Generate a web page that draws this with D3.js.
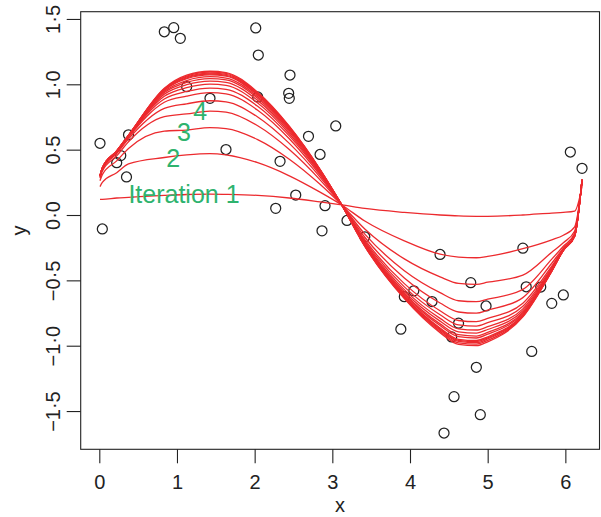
<!DOCTYPE html>
<html><head><meta charset="utf-8">
<script src="https://cdn.jsdelivr.net/npm/d3@7/dist/d3.min.js"></script>
<style>body{margin:0;background:#fff}svg{display:block}</style>
</head><body>
<svg id="chart" width="601" height="517"></svg>
<script>
// observed data points
const pointX = [0.009,0.039,0.224,0.276,0.350,0.376,0.837,0.958,1.043,1.125,1.425,1.631,2.014,2.047,2.039,2.455,2.438,2.446,2.327,2.271,2.529,2.693,2.842,2.867,2.906,3.044,3.189,3.418,3.882,3.927,4.049,4.283,4.387,4.438,4.537,4.567,4.625,4.782,4.854,4.905,4.979,5.453,5.496,5.683,5.567,5.825,5.974,6.064,6.215];
const pointY = [0.549,-0.107,0.400,0.455,0.291,0.614,1.402,1.433,1.352,0.982,0.893,0.501,1.431,1.224,0.903,1.071,0.931,0.893,0.411,0.051,0.153,0.602,0.463,-0.121,0.071,0.681,-0.042,-0.167,-0.874,-0.625,-0.580,-0.662,-0.302,-1.668,-0.933,-1.390,-0.828,-0.518,-1.165,-1.528,-0.696,-0.254,-0.549,-0.551,-1.044,-0.676,-0.612,0.482,0.357];

// x positions at which the fitted curves are drawn
const fitX = [0.009,0.039,0.224,0.376,0.837,1.125,1.425,1.631,2.039,2.446,2.842,3.121,3.418,3.927,4.387,4.625,4.854,5.0,5.453,5.825,5.974,6.12,6.215];
// fitted curve after each iteration
const iter1  = [0.12,0.12,0.13,0.135,0.15,0.157,0.16,0.158,0.15,0.13,0.10,0.077,0.05,0.02,0.0,-0.007,-0.01,-0.01,0.0,0.015,0.02,0.03,0.22];
const iter2  = [0.217,0.249,0.324,0.391,0.44,0.46,0.47,0.46,0.40,0.30,0.175,0.077,-0.046,-0.198,-0.30,-0.322,-0.327,-0.317,-0.258,-0.19,-0.155,-0.09,0.25];
const iter3  = [0.262,0.309,0.414,0.509,0.642,0.650,0.668,0.661,0.577,0.427,0.235,0.077,-0.107,-0.336,-0.473,-0.523,-0.530,-0.514,-0.460,-0.285,-0.212,-0.122,0.26];
const iter4  = [0.281,0.335,0.452,0.560,0.752,0.773,0.795,0.787,0.683,0.501,0.269,0.077,-0.146,-0.426,-0.594,-0.656,-0.663,-0.644,-0.569,-0.338,-0.239,-0.140,0.27];
const iter5  = [0.290,0.346,0.469,0.582,0.816,0.851,0.874,0.866,0.750,0.548,0.290,0.077,-0.170,-0.482,-0.673,-0.742,-0.751,-0.728,-0.632,-0.369,-0.253,-0.149,0.27];
const iter6  = [0.294,0.353,0.479,0.595,0.863,0.910,0.936,0.927,0.802,0.584,0.306,0.077,-0.189,-0.525,-0.733,-0.807,-0.816,-0.791,-0.675,-0.391,-0.261,-0.154,0.27];
const iter7  = [0.297,0.355,0.483,0.601,0.888,0.945,0.971,0.962,0.832,0.605,0.316,0.077,-0.200,-0.550,-0.763,-0.841,-0.850,-0.824,-0.698,-0.402,-0.265,-0.156,0.27];
const iter8  = [0.298,0.357,0.486,0.605,0.909,0.974,1.001,0.992,0.857,0.622,0.324,0.077,-0.210,-0.571,-0.791,-0.871,-0.880,-0.854,-0.718,-0.411,-0.267,-0.158,0.27];
const iter9  = [0.299,0.359,0.488,0.607,0.925,0.997,1.025,1.015,0.877,0.636,0.330,0.077,-0.217,-0.587,-0.812,-0.894,-0.903,-0.876,-0.733,-0.417,-0.268,-0.159,0.27];
const iter10 = [0.299,0.359,0.489,0.608,0.937,1.015,1.044,1.034,0.893,0.647,0.335,0.077,-0.223,-0.600,-0.833,-0.916,-0.926,-0.898,-0.745,-0.421,-0.269,-0.16,0.27];
const iter11 = [0.30,0.36,0.489,0.609,0.946,1.029,1.058,1.048,0.904,0.655,0.339,0.077,-0.227,-0.610,-0.846,-0.931,-0.941,-0.912,-0.753,-0.424,-0.27,-0.16,0.27];
const iter12 = [0.30,0.36,0.49,0.61,0.954,1.043,1.072,1.062,0.916,0.664,0.343,0.077,-0.231,-0.620,-0.864,-0.951,-0.960,-0.932,-0.762,-0.427,-0.27,-0.16,0.27];
const iter13 = [0.30,0.36,0.49,0.61,0.958,1.050,1.079,1.069,0.922,0.668,0.345,0.077,-0.233,-0.625,-0.871,-0.959,-0.968,-0.940,-0.766,-0.428,-0.27,-0.16,0.27];
const iter14 = [0.30,0.36,0.49,0.61,0.963,1.056,1.086,1.076,0.928,0.672,0.346,0.077,-0.236,-0.630,-0.879,-0.967,-0.977,-0.948,-0.771,-0.429,-0.27,-0.16,0.27];
const iter15 = [0.30,0.36,0.49,0.61,0.966,1.063,1.093,1.083,0.934,0.676,0.348,0.077,-0.238,-0.635,-0.889,-0.978,-0.988,-0.959,-0.775,-0.43,-0.27,-0.16,0.27];
const iter16 = [0.30,0.36,0.49,0.61,0.97,1.07,1.10,1.09,0.94,0.68,0.35,0.077,-0.24,-0.64,-0.90,-0.99,-1.00,-0.97,-0.78,-0.43,-0.27,-0.16,0.27];

const xTicks = [0,1,2,3,4,5,6];
const yTicks = [-1.5,-1.0,-0.5,0.0,0.5,1.0,1.5];
const labelText = ["Iteration 1","2","3","4"];
const labelX = [1.09,0.95,1.09,1.30];
const labelY = [0.09,0.37,0.57,0.73];

const iterations = [iter1,iter2,iter3,iter4,iter5,iter6,iter7,iter8,iter9,iter10,iter11,iter12,iter13,iter14,iter15,iter16];

const svg = d3.select("#chart");
const pL = 80.7, pR = 599.5, pT = 11.7, pB = 449.3;
const xs = d3.scaleLinear().domain([-0.2395, 6.4396]).range([pL, pR]);
const ys = d3.scaleLinear().domain([-1.7926, 1.5555]).range([pB, pT]);
const font = "'Liberation Sans', Arial, Helvetica, sans-serif";
const ink = "#222";

// points
svg.append("g").selectAll("circle").data(pointX.map((d,i)=>[d,pointY[i]])).join("circle")
  .attr("cx", d=>xs(d[0])).attr("cy", d=>ys(d[1])).attr("r", 5)
  .attr("fill","none").attr("stroke", ink).attr("stroke-width", 1.25);

// curves
const line = d3.line().x((d,i)=>xs(fitX[i])).y(d=>ys(d)).curve(d3.curveMonotoneX);
svg.append("g").selectAll("path").data(iterations).join("path")
  .attr("d", line).attr("fill","none").attr("stroke","#ec2a2e").attr("stroke-width",1.3)
  .attr("stroke-linejoin","round");

// labels
svg.append("g").selectAll("text").data(labelText).join("text")
  .attr("x",(d,i)=>xs(labelX[i])).attr("y",(d,i)=>ys(labelY[i]))
  .attr("text-anchor","middle").attr("font-family",font).attr("font-size",25)
  .attr("fill","#2eb36e").text(d=>d);

// box
svg.append("rect").attr("x",pL).attr("y",pT).attr("width",pR-pL).attr("height",pB-pT)
  .attr("fill","none").attr("stroke",ink).attr("stroke-width",1.1);

// x axis
const xa = svg.append("g").attr("transform",`translate(0,${pB})`)
  .call(d3.axisBottom(xs).tickValues(xTicks).tickSize(14).tickSizeOuter(0).tickPadding(12).tickFormat(d3.format("d")));
xa.select(".domain").remove();
xa.selectAll("line").attr("stroke",ink).attr("stroke-width",1.1);
xa.selectAll("text").attr("font-family",font).attr("font-size",20).attr("fill",ink);

// y axis
const fmtY = v => (v<0?"\u2212":"") + Math.abs(v).toFixed(1).replace(".","\u00B7");
const ya = svg.append("g").attr("transform",`translate(${pL},0)`)
  .call(d3.axisLeft(ys).tickValues(yTicks).tickSize(14).tickSizeOuter(0).tickFormat(fmtY));
ya.select(".domain").remove();
ya.selectAll("line").attr("stroke",ink).attr("stroke-width",1.1);
ya.selectAll("text").attr("font-family",font).attr("font-size",20).attr("fill",ink)
  .attr("x",null).attr("dy",null).attr("text-anchor","middle")
  .attr("transform","translate(-20.7,0) rotate(-90)");

// axis titles
svg.append("text").attr("x",(pL+pR)/2).attr("y",512).attr("text-anchor","middle")
  .attr("font-family",font).attr("font-size",20).attr("fill",ink).text("x");
svg.append("text").attr("transform",`translate(26,${(pT+pB)/2}) rotate(-90)`).attr("text-anchor","middle")
  .attr("font-family",font).attr("font-size",20).attr("fill",ink).text("y");
</script>
</body></html>
